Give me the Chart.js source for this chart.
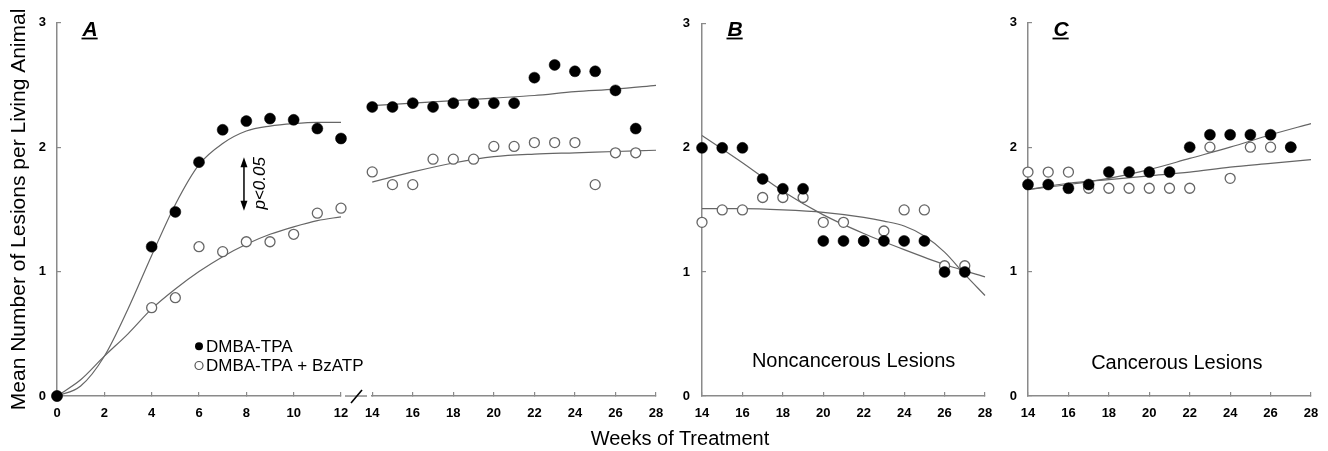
<!DOCTYPE html>
<html>
<head>
<meta charset="utf-8">
<script src="https://cdn.jsdelivr.net/npm/chart.js@4.4.1/dist/chart.umd.min.js"></script>
<style>
  html, body { margin: 0; padding: 0; background: #fff; }
  #wrap { position: relative; width: 1328px; height: 451px; overflow: hidden; }
  canvas { position: absolute; top: 0; }
  #xtitle {
    position: absolute; left: 530px; width: 300px; top: 428px;
    text-align: center; white-space: nowrap;
    font: 20px Arial, "Liberation Sans", sans-serif; line-height: 20px; color: #000;
  }
</style>
</head>
<body>
<div id="wrap">
  <canvas id="panelA1" width="372" height="451" style="left:0px"></canvas>
  <canvas id="panelA2" width="329" height="451" style="left:351px"></canvas>
  <canvas id="panelB" width="345" height="451" style="left:662px"></canvas>
  <canvas id="panelC" width="343" height="451" style="left:990px"></canvas>
  <div id="xtitle">Weeks of Treatment</div>
</div>
<script>
const FONT = 'Arial, "Liberation Sans", sans-serif'

// ---- values ----
// panel A, weeks 0-12
const weeksEarly = [0, 4, 5, 6, 7, 8, 9, 10, 11, 12]
const tpaEarly = [0, 1.20, 1.48, 1.88, 2.14, 2.21, 2.23, 2.22, 2.15, 2.07]
const bzEarly = [0, 0.71, 0.79, 1.20, 1.16, 1.24, 1.24, 1.30, 1.47, 1.51]

// weeks 14-27 (panel A right part, B and C)
const weeksLate = [14, 15, 16, 17, 18, 19, 20, 21, 22, 23, 24, 25, 26, 27]
const tpaA = [2.27, 2.27, 2.30, 2.27, 2.30, 2.30, 2.30, 2.30, 2.50, 2.60, 2.55, 2.55, 2.40, 2.10]
const bzA = [1.76, 1.66, 1.66, 1.86, 1.86, 1.86, 1.96, 1.96, 1.99, 1.99, 1.99, 1.66, 1.91, 1.91]
const tpaB = [2.00, 2.00, 2.00, 1.75, 1.67, 1.67, 1.25, 1.25, 1.25, 1.25, 1.25, 1.25, 1.00, 1.00]
const bzB = [1.40, 1.50, 1.50, 1.60, 1.60, 1.60, 1.40, 1.40, 1.25, 1.33, 1.50, 1.50, 1.05, 1.05]
const tpaC = [1.70, 1.70, 1.67, 1.70, 1.80, 1.80, 1.80, 1.80, 2.00, 2.10, 2.10, 2.10, 2.10, 2.00]
const bzC = [1.80, 1.80, 1.80, 1.67, 1.67, 1.67, 1.67, 1.67, 1.67, 2.00, 1.75, 2.00, 2.00, 2.00]

// fitted curves
const fitWeeksEarly = [0, 1, 2, 3, 4, 5, 6, 7, 8, 9, 10, 11, 12]
const fitTpaEarly = [0, 0.08, 0.32, 0.70, 1.13, 1.54, 1.86, 2.03, 2.13, 2.17, 2.19, 2.20, 2.20]
const fitBzEarly = [0, 0.13, 0.32, 0.50, 0.70, 0.86, 1.00, 1.12, 1.22, 1.30, 1.36, 1.41, 1.44]

const fitWeeksLate = [14, 16, 18, 20, 22, 24, 26, 28]
const fitTpaA = [2.28, 2.30, 2.32, 2.34, 2.36, 2.39, 2.41, 2.44]
const fitBzA = [1.68, 1.76, 1.83, 1.88, 1.90, 1.91, 1.92, 1.93]
const fitTpaB = [2.10, 1.88, 1.65, 1.46, 1.31, 1.18, 1.06, 0.96]
const fitWeeksBzB = [14, 16, 18, 20, 22, 23, 24, 25, 26, 27, 28]
const fitBzB = [1.51, 1.51, 1.50, 1.48, 1.44, 1.41, 1.37, 1.29, 1.16, 0.98, 0.81]
const fitTpaC = [1.66, 1.70, 1.75, 1.82, 1.91, 2.00, 2.10, 2.19]
const fitBzC = [1.66, 1.71, 1.74, 1.77, 1.80, 1.84, 1.87, 1.90]

const yTicks = [0, 1, 2, 3]

function toXY(xs, ys) {
  return xs.map((x, i) => ({ x: x, y: ys[i] }))
}

// filled dots first so they are painted on top
function buildDatasets(weeks, tpa, bz, fitW1, fit1, fitW2, fit2) {
  return [
    {
      label: 'DMBA-TPA', data: toXY(weeks, tpa),
      pointRadius: 5.5, backgroundColor: '#000', borderColor: '#000', borderWidth: 0.5,
      showLine: false, clip: false
    },
    {
      label: 'DMBA-TPA + BzATP', data: toXY(weeks, bz),
      pointRadius: 5, backgroundColor: '#fff', borderColor: '#666', borderWidth: 1.3,
      showLine: false, clip: false
    },
    {
      label: 'fit1', data: toXY(fitW1, fit1), showLine: true, pointRadius: 0,
      borderColor: '#666', borderWidth: 1.2, cubicInterpolationMode: 'monotone', clip: false
    },
    {
      label: 'fit2', data: toXY(fitW2, fit2), showLine: true, pointRadius: 0,
      borderColor: '#666', borderWidth: 1.2, cubicInterpolationMode: 'monotone', clip: false
    }
  ]
}

function xAxis(min, max) {
  return {
    type: 'linear', min: min, max: max,
    afterFit: s => { s.height = 55 },
    ticks: { stepSize: 2, padding: 14, maxRotation: 0, color: '#000', font: { family: FONT, size: 13, weight: 'bold' } },
    grid: { drawOnChartArea: false, tickLength: -4, color: '#8a8a8a', lineWidth: 1.2 },
    border: { color: '#8a8a8a', width: 1.5 }
  }
}

function yAxis(width, pad, show, title) {
  return {
    type: 'linear', min: 0, max: 3,
    afterFit: s => { s.width = width },
    afterBuildTicks: s => { s.ticks = yTicks.map(v => ({ value: v })) },
    ticks: { display: show, padding: pad, color: '#000', font: { family: FONT, size: 13, weight: 'bold' } },
    grid: { display: show, drawOnChartArea: false, tickLength: -4, color: '#8a8a8a', lineWidth: 1.2 },
    border: { display: show, color: '#8a8a8a', width: 1.5 },
    title: title ? {
      display: true, text: title, color: '#000',
      font: { family: FONT, size: 21 }, padding: { top: 7, bottom: 0 }
    } : { display: false }
  }
}

// panel letters, notes, legend, arrow and axis break
const panelDeco = {
  id: 'panelDeco',
  afterDraw(chart, args, opts) {
    const { ctx, chartArea } = chart
    const x = chart.scales.x
    const y = chart.scales.y
    ctx.save()
    ctx.fillStyle = '#000'
    ctx.strokeStyle = '#000'

    if (opts.letter) {
      ctx.font = 'italic bold 21px ' + FONT
      ctx.textAlign = 'left'
      ctx.textBaseline = 'alphabetic'
      const lx = chartArea.left + 25.5
      ctx.fillText(opts.letter, lx, 36)
      const w = ctx.measureText(opts.letter).width
      ctx.fillRect(lx - 1, 37.6, w + 1, 1.8)
    }

    if (opts.note) {
      ctx.font = '20px ' + FONT
      ctx.textAlign = 'center'
      ctx.textBaseline = 'middle'
      ctx.fillText(opts.note.text, x.getPixelForValue(opts.note.x), y.getPixelForValue(opts.note.y))
    }

    if (opts.legend) {
      const ds = chart.data.datasets
      const lx = x.getPixelForValue(6)
      ctx.font = '17px ' + FONT
      ctx.textAlign = 'left'
      ctx.textBaseline = 'middle'
      const rows = [0.40, 0.245]
      rows.forEach((v, i) => {
        const py = y.getPixelForValue(v)
        ctx.beginPath()
        ctx.arc(lx, py, 4, 0, Math.PI * 2)
        if (i === 0) {
          ctx.fillStyle = '#000'
          ctx.fill()
        } else {
          ctx.fillStyle = '#fff'
          ctx.fill()
          ctx.lineWidth = 1.2
          ctx.strokeStyle = '#555'
          ctx.stroke()
        }
        ctx.fillStyle = '#000'
        ctx.fillText(ds[i].label, lx + 7, py + 1)
      })
    }

    if (opts.arrow) {
      const ax = x.getPixelForValue(7.9)
      const y1 = y.getPixelForValue(1.92)
      const y2 = y.getPixelForValue(1.49)
      ctx.lineWidth = 1.5
      ctx.strokeStyle = '#000'
      ctx.beginPath()
      ctx.moveTo(ax, y1 + 6)
      ctx.lineTo(ax, y2 - 6)
      ctx.stroke()
      ctx.beginPath()
      ctx.moveTo(ax, y1); ctx.lineTo(ax - 3.5, y1 + 10); ctx.lineTo(ax + 3.5, y1 + 10); ctx.closePath()
      ctx.moveTo(ax, y2); ctx.lineTo(ax - 3.5, y2 - 10); ctx.lineTo(ax + 3.5, y2 - 10); ctx.closePath()
      ctx.fill()
      ctx.save()
      ctx.translate(x.getPixelForValue(8.57), y.getPixelForValue(1.71))
      ctx.rotate(-Math.PI / 2)
      ctx.font = 'italic 17px ' + FONT
      ctx.textAlign = 'center'
      ctx.textBaseline = 'middle'
      ctx.fillText('p<0.05', 0, 0)
      ctx.restore()
    }

    if (opts.axisBreak) {
      const by = chartArea.bottom
      const r = chartArea.right
      ctx.strokeStyle = '#8a8a8a'
      ctx.lineWidth = 1.5
      ctx.beginPath()
      ctx.moveTo(r + 4, by)
      ctx.lineTo(r + 26, by)
      ctx.stroke()
      ctx.strokeStyle = '#000'
      ctx.lineWidth = 1.6
      ctx.beginPath()
      ctx.moveTo(r + 10, by + 7)
      ctx.lineTo(r + 21, by - 6)
      ctx.stroke()
    }
    ctx.restore()
  }
}

function makePanel(id, datasets, xMin, xMax, yOpts, padding, deco) {
  return new Chart(document.getElementById(id), {
    type: 'scatter',
    data: { datasets: datasets },
    options: {
      responsive: false,
      animation: false,
      events: [],
      layout: { padding: padding },
      scales: { x: xAxis(xMin, xMax), y: yOpts },
      plugins: {
        legend: { display: false },
        tooltip: { enabled: false },
        panelDeco: deco
      }
    },
    plugins: [panelDeco]
  })
}

document.addEventListener('DOMContentLoaded', () => {
  makePanel('panelA1',
    buildDatasets(weeksEarly, tpaEarly, bzEarly, fitWeeksEarly, fitTpaEarly, fitWeeksEarly, fitBzEarly),
    0, 12, yAxis(57, 15, true, 'Mean Number of Lesions per Living Animal'),
    { top: 14, right: 31, bottom: 0, left: 0 },
    { letter: 'A', legend: true, arrow: true, axisBreak: true })

  // right part of panel A: hidden y axis; the first x label reserves 21px on the left
  makePanel('panelA2',
    buildDatasets(weeksLate, tpaA, bzA, fitWeeksLate, fitTpaA, fitWeeksLate, fitBzA),
    14, 28, yAxis(10, 0, false, null),
    { top: 14, right: 24, bottom: 0, left: 0 },
    {})

  makePanel('panelB',
    buildDatasets(weeksLate, tpaB, bzB, fitWeeksLate, fitTpaB, fitWeeksBzB, fitBzB),
    14, 28, yAxis(40, 16, true, null),
    { top: 14, right: 22, bottom: 0, left: 0 },
    { letter: 'B', note: { text: 'Noncancerous Lesions', x: 21.5, y: 0.28 } })

  makePanel('panelC',
    buildDatasets(weeksLate, tpaC, bzC, fitWeeksLate, fitTpaC, fitWeeksLate, fitBzC),
    14, 28, yAxis(38, 15, true, null),
    { top: 14, right: 22, bottom: 0, left: 0 },
    { letter: 'C', note: { text: 'Cancerous Lesions', x: 21.36, y: 0.26 } })
})
</script>
</body>
</html>
